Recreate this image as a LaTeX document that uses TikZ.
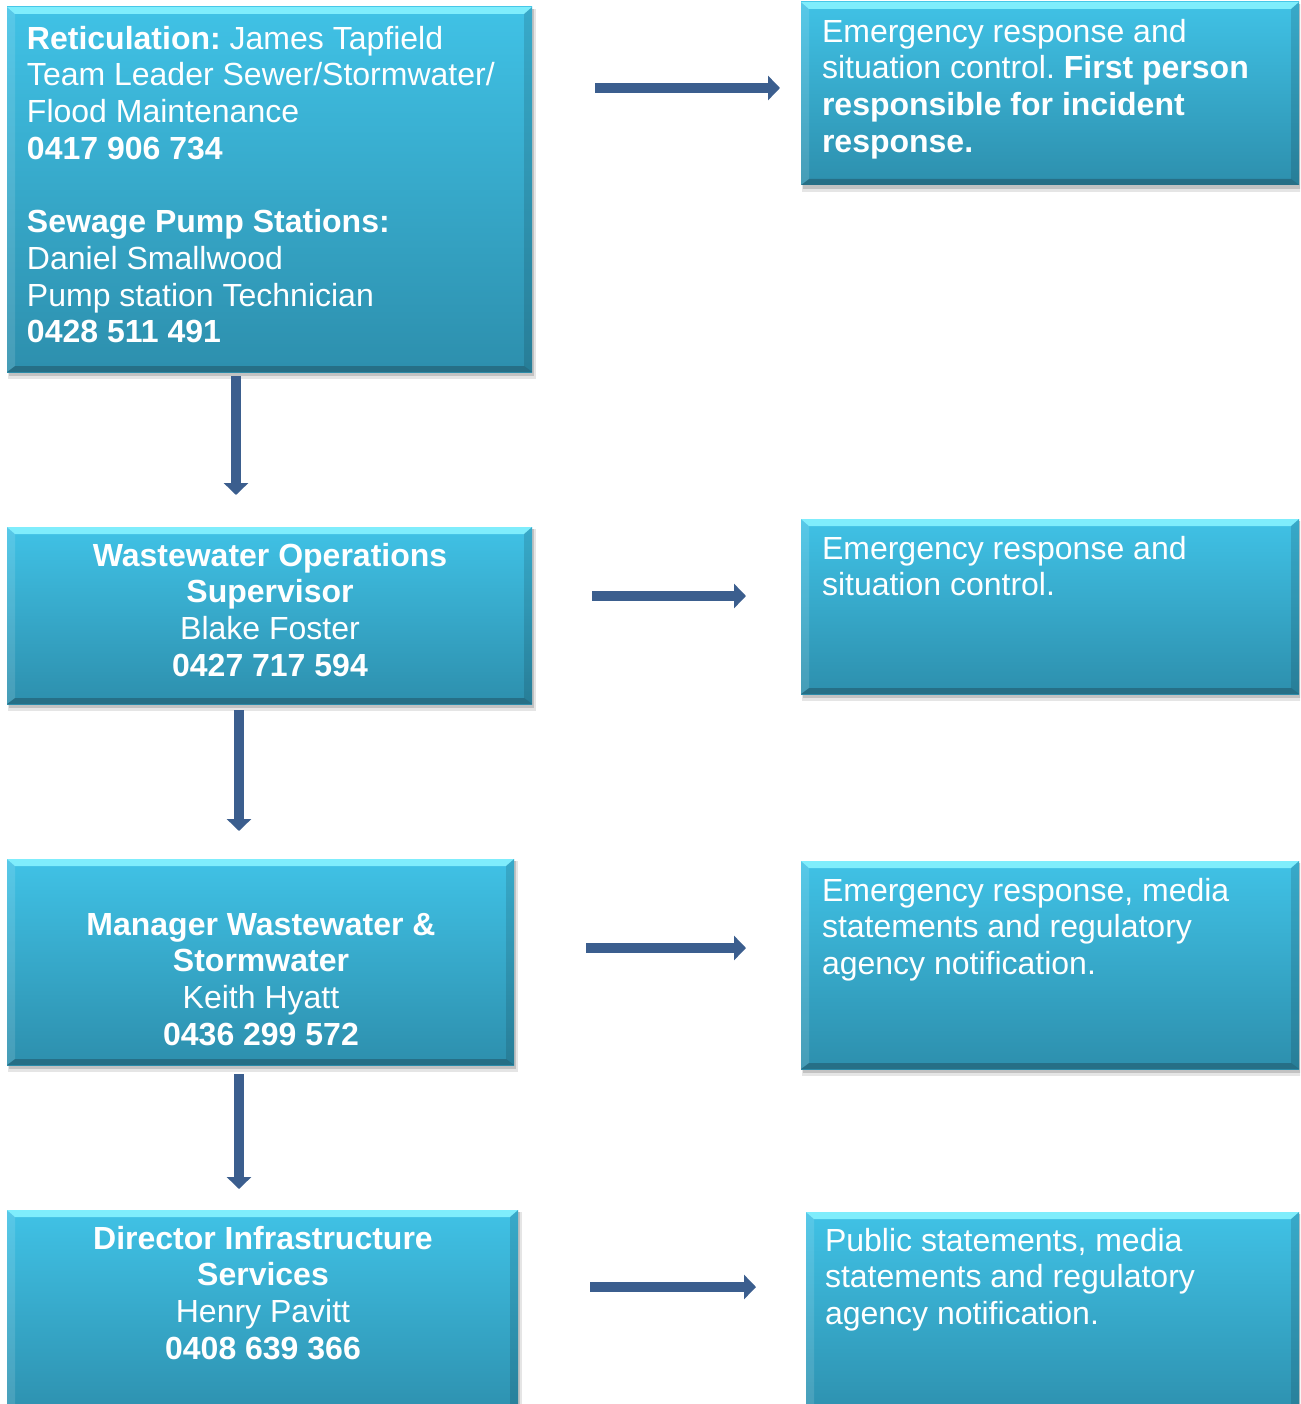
\documentclass[tikz,border=0pt]{standalone}
\usepackage{fontspec}
\setmainfont{Liberation Sans}
\usetikzlibrary{arrows.meta,calc}
\frenchspacing
\definecolor{boxtop}{HTML}{40C2E6}
\definecolor{boxbot}{HTML}{2D8FAD}
\definecolor{bevlight}{HTML}{86F2FF}
\definecolor{bevdark}{HTML}{256A80}
\definecolor{arrowblue}{HTML}{3B5E8E}
\tikzset{
  boxbase/.style={draw=none, rectangle, inner sep=0pt, outer sep=0pt,
    top color=boxtop, bottom color=boxbot},
  boxtext/.style={text=white, inner sep=0pt, outer sep=0pt,
    font=\fontsize{32}{36.7}\selectfont\frenchspacing},
  arr/.style={draw=arrowblue, line width=10pt,
    -{Triangle[width=24pt,length=12pt]}, arrowblue},
}
\newcommand\bevbox[5]{%
  \fill[black,opacity=0.10] (#2+1,#3+2) rectangle (#4+4,#5+7);
  \fill[black,opacity=0.15] (#2+2,#3+2) rectangle (#4+2,#5+4);
  \node[boxbase, minimum width={#4-#2}, minimum height={#5-#3}] (#1) at ({(#2+#4)/2},{(#3+#5)/2}) {};
  \fill[bevlight,opacity=0.9] (#1.north west) -- (#1.north east) -- ([shift={(-8,7)}]#1.north east) -- ([shift={(8,7)}]#1.north west) -- cycle;
  \fill[bevdark,opacity=0.85] (#1.south west) -- (#1.south east) -- ([shift={(-8,-6)}]#1.south east) -- ([shift={(8,-6)}]#1.south west) -- cycle;
  \fill[white,opacity=0.12] (#1.north west) -- ([shift={(8,7)}]#1.north west) -- ([shift={(8,-6)}]#1.south west) -- (#1.south west) -- cycle;
  \fill[black,opacity=0.12] (#1.north east) -- ([shift={(-8,7)}]#1.north east) -- ([shift={(-8,-6)}]#1.south east) -- (#1.south east) -- cycle;
}
\begin{document}
\begin{tikzpicture}[x=1pt,y=-1pt]
\useasboundingbox (0,0) rectangle (1300,1404);
\clip (0,0) rectangle (1300,1404);
\fill[white] (0,0) rectangle (1300,1404);

\bevbox{b1}{7}{7}{532}{372}
\bevbox{r1}{801}{2}{1299}{185}
\bevbox{b2}{7}{527}{532}{704}
\bevbox{r2}{801}{519}{1299}{694}
\bevbox{b3}{7}{859}{514}{1065}
\bevbox{r3}{801}{861}{1299}{1069}
\bevbox{b4}{7}{1210}{518}{1420}
\bevbox{r4}{806}{1212}{1299}{1420}

\node[boxtext, anchor=north west, align=left] (t1) at (27,26) {%
\textbf{Reticulation:} James Tapfield\\
Team Leader Sewer/Stormwater/\\
Flood Maintenance\\
\textbf{0417 906 734}\\[36.7pt]
\textbf{Sewage Pump Stations:}\\
Daniel Smallwood\\
Pump station Technician\\
\textbf{0428 511 491}};

\node[boxtext, anchor=north west, align=left] (tr1) at (822,19) {%
Emergency response and\\
situation control. \textbf{First person}\\
\textbf{responsible for incident}\\
\textbf{response.}};

\node[boxtext, anchor=north, align=center] (t2) at (270,543) {%
\textbf{Wastewater Operations}\\
\textbf{Supervisor}\\
Blake Foster\\
\textbf{0427 717 594}};

\node[boxtext, anchor=north west, align=left] (tr2) at (822,536) {%
Emergency response and\\
situation control.};

\node[boxtext, anchor=north, align=center] (t3) at (261,913) {%
\textbf{Manager Wastewater \&}\\
\textbf{Stormwater}\\
Keith Hyatt\\
\textbf{0436 299 572}};

\node[boxtext, anchor=north west, align=left] (tr3) at (822,878) {%
Emergency response, media\\
statements and regulatory\\
agency notification.};

\node[boxtext, anchor=north, align=center] (t4) at (263,1226) {%
\textbf{Director Infrastructure}\\
\textbf{Services}\\
Henry Pavitt\\
\textbf{0408 639 366}};

\node[boxtext, anchor=north west, align=left] (tr4) at (825,1228) {%
Public statements, media\\
statements and regulatory\\
agency notification.};

\coordinate (h1s) at (595,88);  \coordinate (h1e) at (780,88);
\coordinate (h2s) at (592,596); \coordinate (h2e) at (746,596);
\coordinate (h3s) at (586,948); \coordinate (h3e) at (746,948);
\coordinate (h4s) at (590,1287); \coordinate (h4e) at (756,1287);
\coordinate (v1s) at (236,376); \coordinate (v1e) at (236,495);
\coordinate (v2s) at (239,710); \coordinate (v2e) at (239,831);
\coordinate (v3s) at (239,1074); \coordinate (v3e) at (239,1189);

\draw[arr] (h1s) -- (h1e);
\draw[arr] (h2s) -- (h2e);
\draw[arr] (h3s) -- (h3e);
\draw[arr] (h4s) -- (h4e);
\draw[arr] (v1s) -- (v1e);
\draw[arr] (v2s) -- (v2e);
\draw[arr] (v3s) -- (v3e);
\end{tikzpicture}
\end{document}
